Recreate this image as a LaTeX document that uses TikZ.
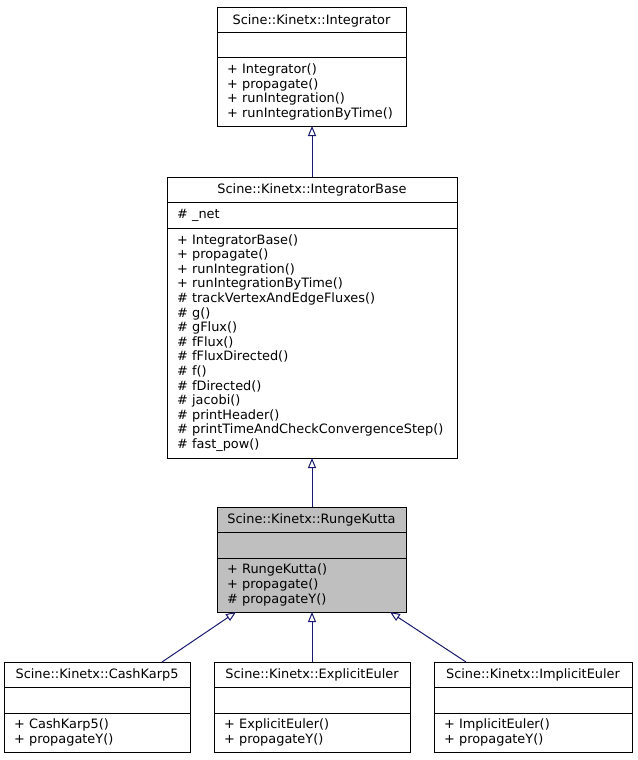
\documentclass[tikz,border=0pt]{standalone}
\usepackage{fontspec}
\setmainfont{DejaVu Sans}
\usetikzlibrary{arrows.meta,positioning}

\definecolor{edgeblue}{HTML}{191970}
\definecolor{rkgray}{HTML}{BFBFBF}
\newcommand\classfont{\fontsize{12.9}{14.6}\selectfont}

\begin{document}
\begin{tikzpicture}[x=1pt, y=1pt,
    cls/.style={draw=black, fill=white, line width=1pt, inner xsep=10pt, inner ysep=0pt, outer sep=0pt, font=\classfont},
    ctitle/.style={cls, anchor=north, minimum width=#1, minimum height=25pt},
    cattr/.style={cls, minimum width=#1, minimum height=26pt},
    cmeth/.style={cls, text width=#1, align=left},
    inh/.style={draw=edgeblue, line width=1pt, -{Triangle[open, length=10pt, width=8pt]}}]
  \useasboundingbox (0,0) rectangle (637,-760);

  % Integrator
  \node (intTitle) [ctitle=189pt] at (311.5,-8) {Scine::Kinetx::Integrator};
  \node (intAttr) [cattr=189pt, minimum height=25pt, below=0pt of intTitle] {};
  \node (intMeth) [cmeth=169pt, minimum height=68pt, below=0pt of intAttr]
    {+ Integrator()\\+ propagate()\\+ runIntegration()\\+ runIntegrationByTime()};

  % IntegratorBase
  \node (ibTitle) [ctitle=290pt] at (312,-177) {Scine::Kinetx::IntegratorBase};
  \node (ibAttr) [cmeth=270pt, minimum height=26pt, below=0pt of ibTitle] {\# \_net};
  \node (ibMeth) [cmeth=270pt, minimum height=230pt, below=0pt of ibAttr]
    {+ IntegratorBase()\\+ propagate()\\+ runIntegration()\\+ runIntegrationByTime()\\
     \# trackVertexAndEdgeFluxes()\\\# g()\\\# gFlux()\\\# fFlux()\\\# fFluxDirected()\\
     \# f()\\\# fDirected()\\\# jacobi()\\\# printHeader()\\
     \# printTimeAndCheckConvergenceStep()\\\# fast\_pow()};

  % RungeKutta
  \node (rkTitle) [ctitle=189pt, fill=rkgray] at (311.5,-507) {Scine::Kinetx::RungeKutta};
  \node (rkAttr) [cattr=189pt, fill=rkgray, below=0pt of rkTitle] {};
  \node (rkMeth) [cmeth=169pt, fill=rkgray, minimum height=54pt, below=0pt of rkAttr]
    {+ RungeKutta()\\+ propagate()\\\# propagateY()};

  % integrators derived from RungeKutta
  \foreach \nm/\cx/\bw/\tw/\lbl in {ck/97/186pt/166pt/CashKarp5,
      ee/312/196pt/176pt/ExplicitEuler, ie/533/198pt/178pt/ImplicitEuler} {
    \node (\nm Title) [ctitle=\bw] at (\cx,-662) {Scine::Kinetx::\lbl};
    \node (\nm Attr) [cattr=\bw, below=0pt of \nm Title] {};
    \node (\nm Meth) [cmeth=\tw, minimum height=39pt, below=0pt of \nm Attr]
      {+ \lbl()\\+ propagateY()};
  }

  \draw[inh] (ibTitle.north) -- (ibTitle.north |- intMeth.south);
  \draw[inh] (rkTitle.north -| ibTitle.north) -- (ibTitle.north |- ibMeth.south);
  \draw[inh] ([xshift=-28pt]ckTitle.north east) -- ([xshift=19pt]rkMeth.south west);
  \draw[inh] (eeTitle.north) -- (eeTitle.north |- rkMeth.south);
  \draw[inh] ([xshift=32pt]ieTitle.north west) -- ([xshift=-16pt]rkMeth.south east);
\end{tikzpicture}
\end{document}
